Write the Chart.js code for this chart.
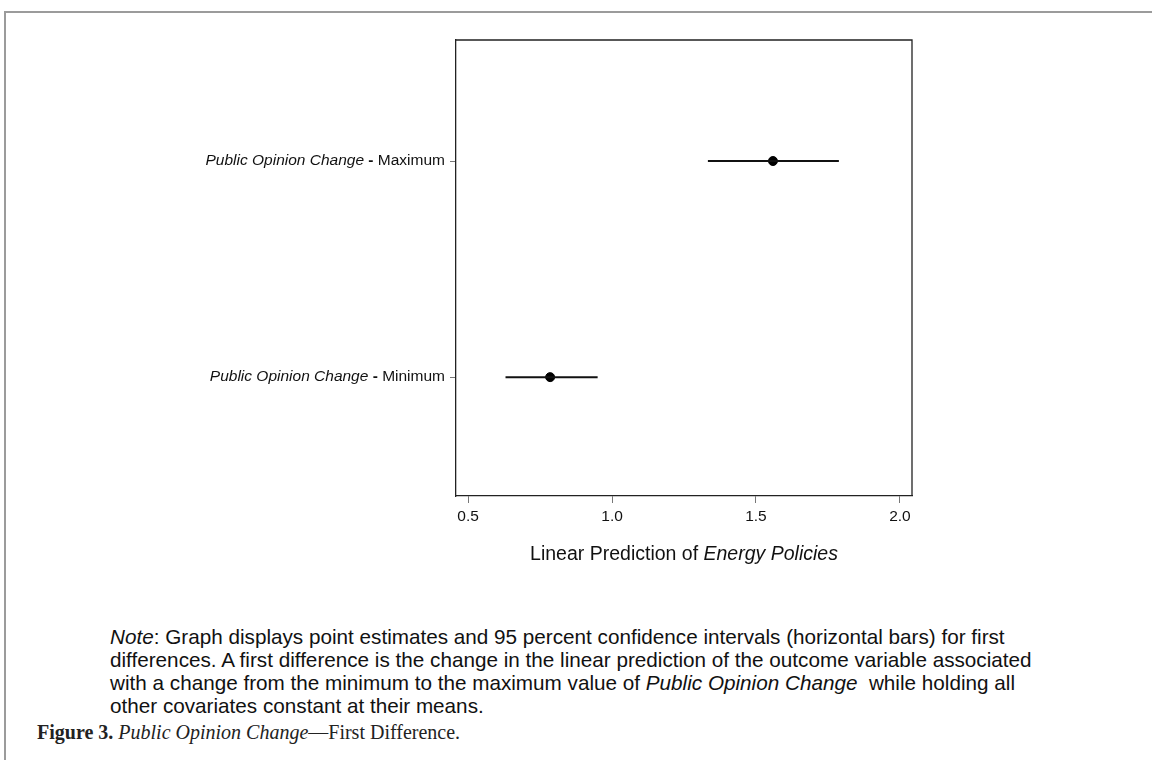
<!DOCTYPE html>
<html>
<head>
<meta charset="utf-8">
<script src="https://cdn.jsdelivr.net/npm/chart.js@4.4.0/dist/chart.umd.min.js"></script>
<style>
body{margin:0;background:#fff;width:1152px;height:760px;overflow:hidden;position:relative;font-family:"Liberation Sans",Arial,sans-serif;}
.frame{position:absolute;left:4px;top:11px;right:-4px;bottom:-4px;border-top:2px solid #9b9b9b;border-left:2px solid #9b9b9b;}
#wrap{position:absolute;left:0;top:0;width:1152px;height:600px;}
.note{position:absolute;left:110px;top:625px;font-size:20.7px;line-height:23px;color:#111;white-space:nowrap;}
.caption{position:absolute;left:37px;top:721px;font-family:"Liberation Serif","Times New Roman",serif;font-size:20px;color:#222;}
</style>
</head>
<body>
<div class="frame"></div>
<div id="wrap"><canvas id="chart" width="1152" height="600"></canvas></div>
<div class="note"><i>Note</i>: Graph displays point estimates and 95 percent confidence intervals (horizontal bars) for first<br>differences. A first difference is the change in the linear prediction of the outcome variable associated<br>with a change from the minimum to the maximum value of <i>Public Opinion Change</i>&nbsp; while holding all<br>other covariates constant at their means.</div>
<div class="caption"><b>Figure 3.</b> <i>Public Opinion Change</i>—First Difference.</div>
<script>
// =============== data =================//
const categories = ["Minimum", "Maximum"];
const catPos = [1, 2];
const estimates = [0.785, 1.559];
const lower = [0.63, 1.333];
const upper = [0.95, 1.788];
const xTicks = [0.5, 1.0, 1.5, 2.0];

const ciSets = categories.map((c, i) => ({
  label: c + " CI",
  data: [{x: lower[i], y: catPos[i]}, {x: upper[i], y: catPos[i]}],
  showLine: true,
  borderColor: "#111",
  borderWidth: 2,
  pointRadius: 0
}));

const pointSet = {
  label: "estimate",
  data: estimates.map((v, i) => ({x: v, y: catPos[i]})),
  pointRadius: 4.5,
  pointBackgroundColor: "#000",
  pointBorderColor: "#000",
  showLine: false
};

// =========== box, category labels, axis title =================//
const FONT = "'Liberation Sans', Arial, sans-serif";
const extras = {
  id: "extras",
  afterDraw(chart) {
    const ctx = chart.ctx;
    const a = chart.chartArea;
    const y = chart.scales.y;
    ctx.save();
    ctx.strokeStyle = "#222";
    ctx.lineWidth = 1.3;
    ctx.beginPath();
    ctx.moveTo(a.left, a.top);
    ctx.lineTo(a.right, a.top);
    ctx.lineTo(a.right, a.bottom);
    ctx.stroke();

    ctx.fillStyle = "#111";
    ctx.textBaseline = "middle";
    ctx.textAlign = "left";
    categories.forEach((c, i) => {
      const py = y.getPixelForValue(catPos[i]);
      const it = "Public Opinion Change";
      const dash = " - ";
      const rest = c;
      ctx.font = "15.5px " + FONT;
      const w3 = ctx.measureText(rest).width;
      ctx.font = "bold 15.5px " + FONT;
      const w2 = ctx.measureText(dash).width;
      ctx.font = "italic 15.5px " + FONT;
      const w1 = ctx.measureText(it).width;
      const xr = a.left - 11;
      ctx.fillText(it, xr - w1 - w2 - w3, py);
      ctx.font = "bold 15.5px " + FONT;
      ctx.fillText(dash, xr - w2 - w3, py);
      ctx.font = "15.5px " + FONT;
      ctx.fillText(rest, xr - w3, py);
    });

    const t1 = "Linear Prediction of ";
    const t2 = "Energy Policies";
    ctx.font = "19.5px " + FONT;
    const w1 = ctx.measureText(t1).width;
    ctx.font = "italic 19.5px " + FONT;
    const w2 = ctx.measureText(t2).width;
    const cx = (a.left + a.right) / 2;
    const ty = a.bottom + 59;
    ctx.font = "19.5px " + FONT;
    ctx.fillText(t1, cx - (w1 + w2) / 2, ty);
    ctx.font = "italic 19.5px " + FONT;
    ctx.fillText(t2, cx - (w1 + w2) / 2 + w1, ty);
    ctx.restore();
  }
};

const chart = document.getElementById("chart");

new Chart(chart, {
  type: "scatter",
  data: {datasets: [...ciSets, pointSet]},
  options: {
    responsive: false,
    devicePixelRatio: 1,
    animation: false,
    layout: {padding: {left: 0, top: 40, right: 240, bottom: 0}},
    plugins: {legend: {display: false}, tooltip: {enabled: false}},
    scales: {
      x: {
        type: "linear",
        min: 0.458,
        max: 2.042,
        afterBuildTicks: s => { s.ticks = xTicks.map(v => ({value: v})); },
        afterFit: s => { s.height = 104; },
        grid: {drawOnChartArea: false, drawTicks: true, tickLength: 7, color: "#777"},
        border: {color: "#222", width: 1.3},
        ticks: {
          color: "#111",
          padding: 4,
          font: {family: FONT, size: 15.5},
          callback: v => Number(v).toFixed(1)
        }
      },
      y: {
        type: "linear",
        min: 0.45,
        max: 2.56,
        afterBuildTicks: s => { s.ticks = catPos.map(v => ({value: v})); },
        afterFit: s => { s.width = 456; },
        grid: {drawOnChartArea: false, drawTicks: true, tickLength: 6, color: "#777"},
        border: {color: "#222", width: 1.3},
        ticks: {display: false}
      }
    }
  },
  plugins: [extras]
});
</script>
</body>
</html>
